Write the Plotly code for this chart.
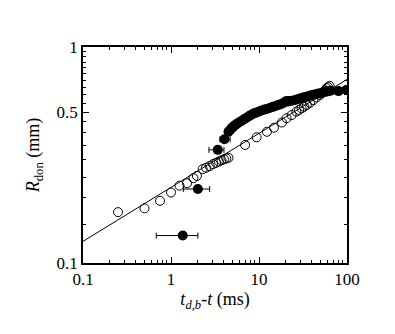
import plotly.graph_objects as go

# open circles: t_db - t (ms), R_don (mm)
open_t = [0.25, 0.50, 0.75, 1.00, 1.25, 1.52, 1.80, 1.97, 2.29, 2.5, 2.75, 3.0, 3.25,
          3.5, 3.75, 4.0, 4.25, 4.5, 6.95, 9.4, 12.3, 14.8, 18.2, 20.6, 23.5, 26.5,
          28.5, 30.5, 32.5, 34.9, 38.0, 41.5, 45.0, 49.3, 53.5, 56.5, 58.6, 61.0, 63.5]
open_r = [0.172, 0.179, 0.194, 0.212, 0.228, 0.234, 0.247, 0.253, 0.272, 0.276, 0.281,
          0.287, 0.291, 0.295, 0.299, 0.302, 0.305, 0.307, 0.352, 0.382, 0.405, 0.423,
          0.447, 0.468, 0.484, 0.502, 0.511, 0.520, 0.529, 0.539, 0.552, 0.568, 0.584,
          0.600, 0.616, 0.630, 0.644, 0.652, 0.660]

# filled circles with horizontal error bars
err_t = [1.36, 2.02, 3.40, 4.05]
err_r = [0.134, 0.220, 0.334, 0.374]
err_minus = [0.68, 0.64, 0.70, 0.45]
err_plus = [0.66, 0.73, 0.60, 0.65]

# filled circles (dense series)
fill_t = [4.5, 4.7, 4.9, 5.1, 5.4, 5.7, 6.1, 6.5, 6.9, 7.3, 7.8, 8.3, 8.8, 9.4, 10.0,
          10.7, 11.5, 12.3, 13.2, 14.1, 15.1, 16.2, 17.3, 18.5, 19.8, 20.6, 21.5, 22.8,
          24.5, 26.3, 28.2, 30.3, 32.5, 34.9, 37.4, 40.1, 43.0, 46.1, 49.4, 53.0, 56.8,
          61.0, 65.0, 80.0, 98.0]
fill_r = [0.405, 0.413, 0.421, 0.428, 0.436, 0.443, 0.451, 0.458, 0.465, 0.472, 0.480,
          0.487, 0.493, 0.498, 0.503, 0.508, 0.513, 0.517, 0.522, 0.527, 0.532, 0.537,
          0.542, 0.548, 0.556, 0.563, 0.560, 0.562, 0.565, 0.570, 0.575, 0.580, 0.585,
          0.589, 0.594, 0.599, 0.603, 0.607, 0.611, 0.616, 0.620, 0.624, 0.628, 0.625,
          0.632]

# power-law fit R = a * t^(1/4)
fit_t = [0.1, 100]
fit_a = 0.224
fit_n = 0.25
fit_r = [fit_a * t ** fit_n for t in fit_t]

x_ticks = [0.1, 1, 10, 100]
x_labels = ["0.1", "1", "10", "100"]
y_ticks = [0.1, 0.5, 1]
y_labels = ["0.1", "0.5", "1"]
x_minor = [m * d for d in (0.1, 1, 10) for m in range(2, 10)]
y_minor = [0.15, 0.2, 0.25, 0.3, 0.35, 0.4, 0.45,
           0.55, 0.6, 0.65, 0.7, 0.75, 0.8, 0.85, 0.9, 0.95]

SERIF = 'Liberation Serif, Times New Roman, serif'

fig = go.Figure()
fig.add_trace(go.Scatter(x=fill_t, y=fill_r, mode='markers',
                         marker=dict(symbol='circle', size=10, color='black')))
fig.add_trace(go.Scatter(x=err_t, y=err_r, mode='markers',
                         marker=dict(symbol='circle', size=10, color='black'),
                         error_x=dict(type='data', symmetric=False, array=err_plus,
                                      arrayminus=err_minus, color='black',
                                      thickness=1, width=3)))
fig.add_trace(go.Scatter(x=open_t, y=open_r, mode='markers',
                         marker=dict(symbol='circle-open', size=9, color='black',
                                     line=dict(width=1))))
fig.add_trace(go.Scatter(x=fit_t, y=fit_r, mode='lines',
                         line=dict(color='black', width=1)))

axis_common = dict(showline=True, linecolor='black', linewidth=1.5, mirror='allticks',
                   ticks='inside', ticklen=6, tickwidth=1, tickcolor='black',
                   showgrid=False, zeroline=False, automargin=False,
                   tickfont=dict(family=SERIF, size=17, color='black'))

# the page body has an 8px margin, so the figure is a bit smaller than the window
fig.update_layout(
    width=387, height=326,
    margin=dict(l=75, r=48, t=39, b=71),
    paper_bgcolor='white', plot_bgcolor='white',
    showlegend=False,
    font=dict(family=SERIF, size=17, color='black'),
    xaxis=dict(type='log', range=[-1, 2], tickmode='array', tickvals=x_ticks,
               ticktext=x_labels,
               minor=dict(tickmode='array', tickvals=x_minor, ticks='inside',
                          ticklen=3, tickcolor='black'),
               title=dict(text='<i>t</i><sub><i>d,b</i></sub>-<i>t</i> (ms)',
                          font=dict(family=SERIF, size=18), standoff=4),
               **axis_common),
    yaxis=dict(type='log', range=[-1, 0], tickmode='array', tickvals=y_ticks,
               ticktext=y_labels,
               minor=dict(tickmode='array', tickvals=y_minor, ticks='inside',
                          ticklen=3, tickcolor='black'),
               title=dict(text='<i>R</i><sub>don</sub> (mm)',
                          font=dict(family=SERIF, size=18), standoff=12),
               **axis_common),
)

fig.write_html("out.html")
